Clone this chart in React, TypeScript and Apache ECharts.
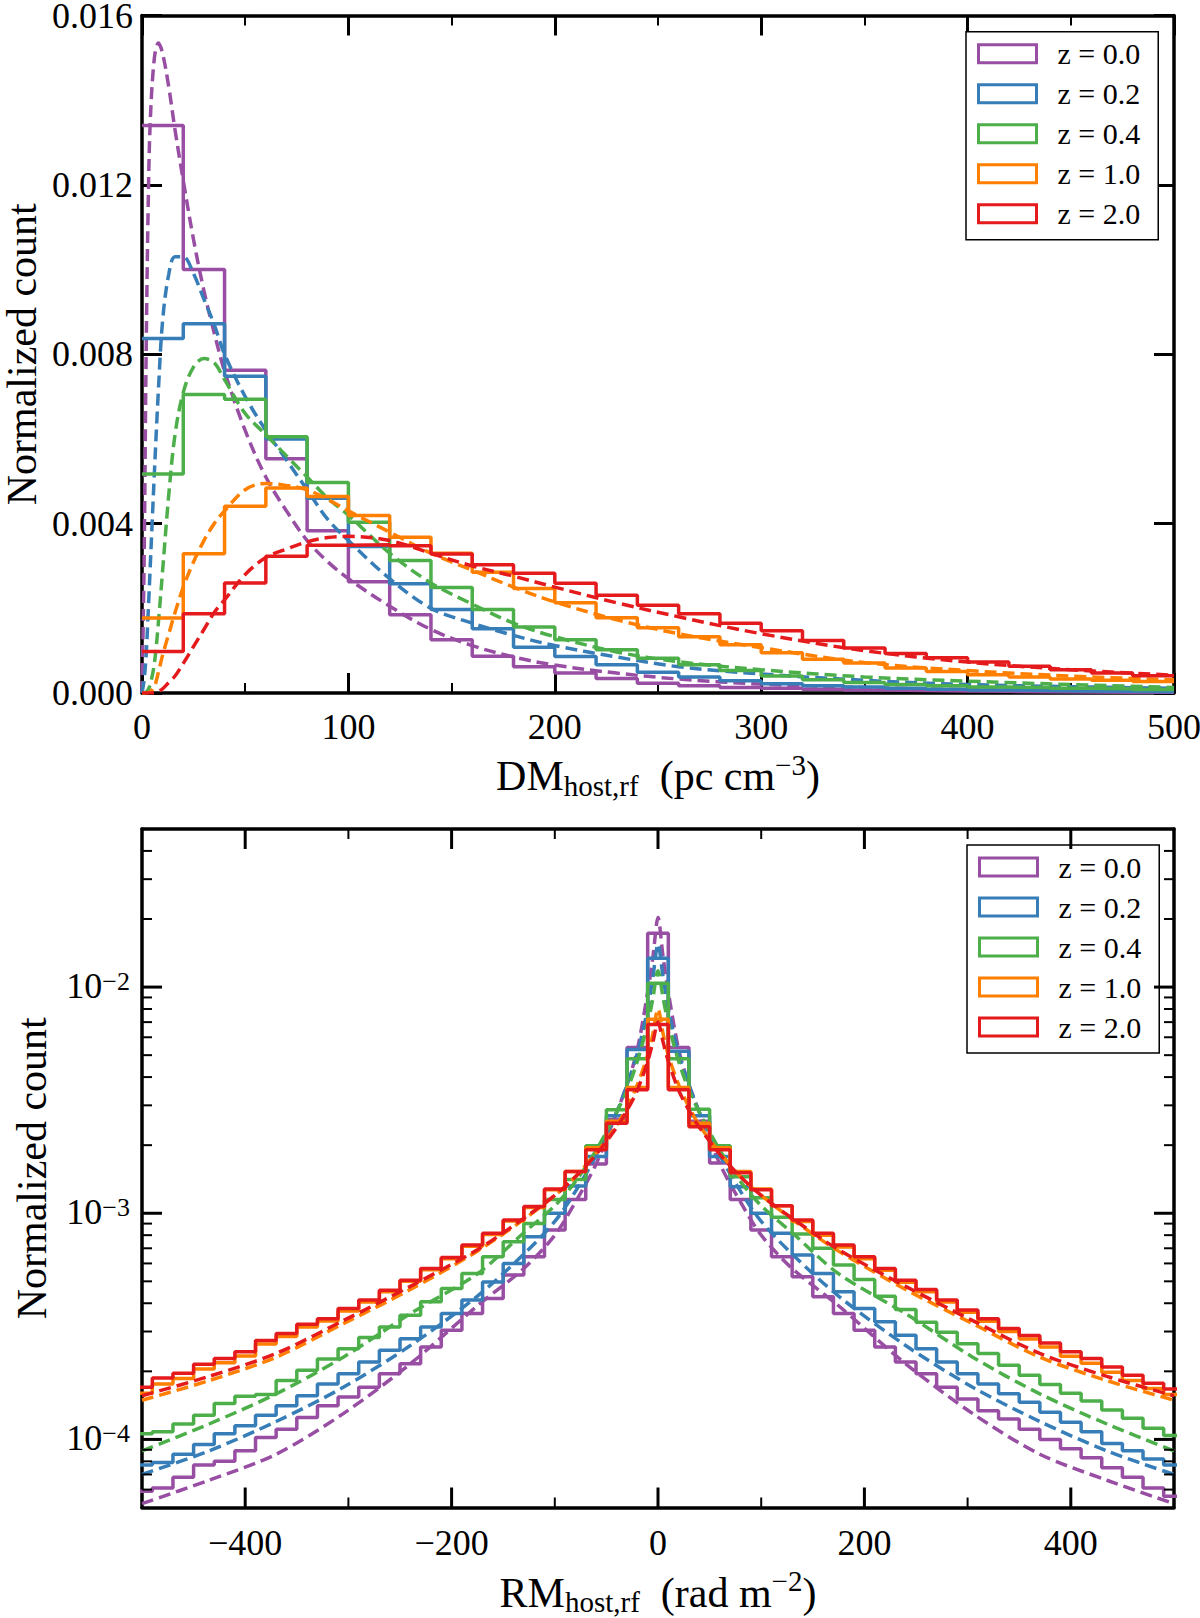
import { useEffect, useRef } from 'react';
import * as echarts from 'echarts';

const FONT = "'Liberation Serif', 'Times New Roman', serif";

const zLabels = ['z = 0.0', 'z = 0.2', 'z = 0.4', 'z = 1.0', 'z = 2.0'];
const zColors = ['#984ea3', '#377eb8', '#4daf4a', '#ff7f00', '#e41a1c'];

// ---- top panel: DM_host,rf, 20 pc cm^-3 bins from 0 to 500
const dmBinStart = 0;
const dmBinWidth = 20;
const dmHistZ00 = [0.0134, 0.01, 0.00762, 0.00553, 0.00383, 0.00263, 0.00185, 0.00126, 0.00087, 0.00062, 0.00047, 0.00034, 0.00023, 0.00017, 0.00013, 0.00011, 0.00009, 0.00007, 0.00006, 0.00005, 0.00004, 0.00003, 0.000025, 0.00002, 0.000015];
const dmHistZ02 = [0.00837, 0.00872, 0.00748, 0.006, 0.0046, 0.00346, 0.00258, 0.00197, 0.00152, 0.00108, 0.00086, 0.00067, 0.00049, 0.00038, 0.00029, 0.00022, 0.00017, 0.00014, 0.00011, 0.00009, 0.00007, 0.00006, 0.00005, 0.00004, 0.00003];
const dmHistZ04 = [0.00517, 0.00705, 0.00694, 0.00605, 0.00497, 0.00403, 0.00313, 0.00249, 0.00197, 0.00156, 0.00126, 0.00102, 0.00082, 0.00067, 0.00053, 0.0004, 0.00031, 0.00025, 0.0002, 0.00017, 0.00014, 0.00013, 0.00011, 0.0001, 0.00008];
const dmHistZ10 = [0.00177, 0.00329, 0.00441, 0.00484, 0.00464, 0.00419, 0.00368, 0.0033, 0.00285, 0.00247, 0.00213, 0.00178, 0.00154, 0.00133, 0.00114, 0.00095, 0.0008, 0.00071, 0.00059, 0.00051, 0.00043, 0.00038, 0.00033, 0.0003, 0.00027];
const dmHistZ20 = [0.00098, 0.00187, 0.0026, 0.00323, 0.00349, 0.0035, 0.00348, 0.00328, 0.00303, 0.00283, 0.00259, 0.00231, 0.00207, 0.00187, 0.00165, 0.00147, 0.00124, 0.00106, 0.00093, 0.00083, 0.00073, 0.00063, 0.00055, 0.00047, 0.00041];

// dashed model curves, read at these DM values
const dmCurveX = [0, 1, 2, 3, 4, 6, 8, 10, 13, 16, 20, 25, 30, 35, 40, 50, 60, 70, 80, 90, 100, 120, 140, 160, 180, 200, 230, 260, 300, 350, 400, 450, 500];
const dmCurveZ00 = [0, 0.003, 0.008, 0.0115, 0.0135, 0.015, 0.01535, 0.0151, 0.0143, 0.0133, 0.0121, 0.0107, 0.0095, 0.0085, 0.0076, 0.0062, 0.0051, 0.0043, 0.0036, 0.0031, 0.0027, 0.00205, 0.0015, 0.00112, 0.00085, 0.00066, 0.00047, 0.00033, 0.00021, 0.00013, 0.00008, 0.00005, 0.00003];
const dmCurveZ02 = [0, 0.0003, 0.0009, 0.0019, 0.003, 0.0052, 0.0072, 0.0088, 0.0099, 0.0103, 0.0103, 0.0099, 0.0093, 0.0087, 0.008, 0.007, 0.0062, 0.0055, 0.0048, 0.0041, 0.0036, 0.0027, 0.002, 0.00165, 0.00136, 0.00112, 0.00085, 0.00062, 0.00045, 0.0003, 0.0002, 0.00015, 0.00011];
const dmCurveZ04 = [0, 0, 0.00002, 0.00008, 0.0002, 0.0007, 0.0017, 0.0029, 0.0047, 0.0061, 0.0071, 0.0077, 0.0079, 0.0078, 0.0074, 0.0066, 0.0061, 0.0056, 0.0051, 0.0046, 0.0042, 0.0033, 0.0026, 0.0021, 0.00165, 0.00133, 0.00097, 0.00074, 0.00055, 0.00038, 0.00028, 0.0002, 0.00013];
const dmCurveZ10 = [0, 0, 0, 0.00001, 0.00003, 0.00015, 0.0005, 0.0009, 0.0014, 0.0019, 0.0025, 0.0031, 0.0036, 0.004, 0.0043, 0.0048, 0.00495, 0.0049, 0.0048, 0.00457, 0.0043, 0.0038, 0.0033, 0.0029, 0.0025, 0.00215, 0.00173, 0.0014, 0.00107, 0.00072, 0.00053, 0.0004, 0.00031];
const dmCurveZ20 = [0, 0, 0, 0, 0, 0.00001, 0.00004, 0.0001, 0.00025, 0.0004, 0.0007, 0.0011, 0.0015, 0.0019, 0.0022, 0.0028, 0.0032, 0.0034, 0.00357, 0.00367, 0.0037, 0.0036, 0.0033, 0.003, 0.00276, 0.0025, 0.00213, 0.0018, 0.0014, 0.001, 0.00073, 0.00055, 0.00042];

const dmXTicks = { min: 0, max: 500, interval: 100 };
const dmYTicks = { min: 0, max: 0.016, interval: 0.004 };

// ---- bottom panel: RM_host,rf, 20 rad m^-2 bins centred on -500 ... 500
const rmBinStart = -510;
const rmBinWidth = 20;
const rmHistZ00 = [5.9e-5, 6.1e-5, 6.8e-5, 7.7e-5, 8.0e-5, 8.9e-5, 1.02e-4, 1.11e-4, 1.25e-4, 1.41e-4, 1.54e-4, 1.7e-4, 1.95e-4, 2.16e-4, 2.56e-4, 3.04e-4, 3.6e-4, 4.2e-4, 5.33e-4, 6.43e-4, 8.43e-4, 1.15e-3, 1.65e-3, 2.6e-3, 5.4e-3, 1.73e-2, 5.4e-3, 2.55e-3, 1.67e-3, 1.15e-3, 8.43e-4, 6.43e-4, 5.24e-4, 4.27e-4, 3.6e-4, 3.04e-4, 2.56e-4, 2.2e-4, 1.95e-4, 1.7e-4, 1.51e-4, 1.34e-4, 1.23e-4, 1.11e-4, 1.0e-4, 9.1e-5, 8.3e-5, 7.5e-5, 6.8e-5, 6.1e-5, 5.6e-5];
const rmHistZ02 = [7.7e-5, 7.9e-5, 8.6e-5, 9.5e-5, 1.06e-4, 1.15e-4, 1.28e-4, 1.41e-4, 1.56e-4, 1.76e-4, 1.95e-4, 2.2e-4, 2.48e-4, 2.79e-4, 3.14e-4, 3.6e-4, 4.13e-4, 4.97e-4, 6.0e-4, 7.88e-4, 1.0e-3, 1.32e-3, 1.78e-3, 2.7e-3, 5.3e-3, 1.34e-2, 5.2e-3, 2.7e-3, 1.78e-3, 1.31e-3, 1.0e-3, 8.15e-4, 6.53e-4, 5.42e-4, 4.5e-4, 3.79e-4, 3.31e-4, 2.89e-4, 2.52e-4, 2.2e-4, 1.95e-4, 1.76e-4, 1.59e-4, 1.46e-4, 1.32e-4, 1.19e-4, 1.08e-4, 9.6e-5, 8.9e-5, 8.2e-5, 7.7e-5];
const rmHistZ04 = [1.06e-4, 1.08e-4, 1.17e-4, 1.28e-4, 1.44e-4, 1.55e-4, 1.58e-4, 1.82e-4, 2.02e-4, 2.27e-4, 2.52e-4, 2.82e-4, 3.14e-4, 3.54e-4, 4.06e-4, 4.65e-4, 5.42e-4, 6.43e-4, 7.49e-4, 9.0e-4, 1.15e-3, 1.41e-3, 1.99e-3, 2.87e-3, 4.82e-3, 1.04e-2, 4.82e-3, 2.88e-3, 1.99e-3, 1.45e-3, 1.17e-3, 9.6e-4, 8.1e-4, 7.0e-4, 5.9e-4, 5.1e-4, 4.3e-4, 3.75e-4, 3.3e-4, 2.98e-4, 2.65e-4, 2.4e-4, 2.13e-4, 1.92e-4, 1.75e-4, 1.6e-4, 1.48e-4, 1.35e-4, 1.24e-4, 1.12e-4, 1.04e-4];
const rmHistZ10 = [1.6e-4, 1.76e-4, 1.86e-4, 2.05e-4, 2.18e-4, 2.34e-4, 2.64e-4, 2.85e-4, 3.14e-4, 3.34e-4, 3.7e-4, 4.05e-4, 4.5e-4, 5.0e-4, 5.62e-4, 6.3e-4, 7.15e-4, 8.05e-4, 9.25e-4, 1.06e-3, 1.27e-3, 1.53e-3, 1.95e-3, 2.55e-3, 3.6e-3, 7.2e-3, 3.6e-3, 2.5e-3, 1.95e-3, 1.53e-3, 1.28e-3, 1.08e-3, 9.2e-4, 8.0e-4, 7.1e-4, 6.3e-4, 5.6e-4, 4.95e-4, 4.5e-4, 4.05e-4, 3.65e-4, 3.33e-4, 3.0e-4, 2.78e-4, 2.56e-4, 2.33e-4, 2.17e-4, 1.98e-4, 1.82e-4, 1.68e-4, 1.58e-4];
const rmHistZ20 = [1.7e-4, 1.87e-4, 1.96e-4, 2.15e-4, 2.28e-4, 2.44e-4, 2.74e-4, 2.94e-4, 3.23e-4, 3.42e-4, 3.79e-4, 4.13e-4, 4.57e-4, 5.06e-4, 5.7e-4, 6.38e-4, 7.24e-4, 8.15e-4, 9.34e-4, 1.07e-3, 1.28e-3, 1.53e-3, 1.91e-3, 2.5e-3, 3.52e-3, 6.84e-3, 3.52e-3, 2.41e-3, 1.91e-3, 1.51e-3, 1.27e-3, 1.08e-3, 9.34e-4, 8.15e-4, 7.24e-4, 6.43e-4, 5.7e-4, 5.06e-4, 4.6e-4, 4.13e-4, 3.73e-4, 3.42e-4, 3.09e-4, 2.88e-4, 2.67e-4, 2.44e-4, 2.28e-4, 2.09e-4, 1.92e-4, 1.77e-4, 1.67e-4];

const rmCurveX = [-500, -435, -370, -305, -240, -175, -130, -100, -80, -60, -40, -30, -20, -10, -5, 0, 5, 10, 20, 30, 40, 60, 80, 100, 130, 175, 240, 305, 370, 435, 500];
const rmCurveZ00 = [5.2e-5, 6.6e-5, 8.6e-5, 1.3e-4, 2.16e-4, 3.9e-4, 5.7e-4, 8.0e-4, 1.12e-3, 1.65e-3, 2.8e-3, 3.7e-3, 5.3e-3, 9.5e-3, 1.35e-2, 2.03e-2, 1.35e-2, 9.5e-3, 5.3e-3, 3.7e-3, 2.8e-3, 1.65e-3, 1.12e-3, 8.0e-4, 5.7e-4, 3.9e-4, 2.16e-4, 1.3e-4, 8.6e-5, 6.6e-5, 5.2e-5];
const rmCurveZ02 = [7.0e-5, 8.9e-5, 1.2e-4, 1.7e-4, 2.6e-4, 4.3e-4, 6.6e-4, 9.2e-4, 1.25e-3, 1.8e-3, 2.8e-3, 3.7e-3, 5.1e-3, 8.0e-3, 1.1e-2, 1.55e-2, 1.1e-2, 8.0e-3, 5.1e-3, 3.7e-3, 2.8e-3, 1.8e-3, 1.25e-3, 9.2e-4, 6.6e-4, 4.3e-4, 2.6e-4, 1.7e-4, 1.2e-4, 8.9e-5, 7.0e-5];
const rmCurveZ04 = [8.9e-5, 1.17e-4, 1.59e-4, 2.31e-4, 3.6e-4, 5.4e-4, 8.2e-4, 1.08e-3, 1.38e-3, 1.9e-3, 2.8e-3, 3.5e-3, 4.7e-3, 6.9e-3, 8.9e-3, 1.18e-2, 8.9e-3, 6.9e-3, 4.7e-3, 3.5e-3, 2.8e-3, 1.9e-3, 1.38e-3, 1.08e-3, 8.2e-4, 5.4e-4, 3.6e-4, 2.31e-4, 1.59e-4, 1.17e-4, 8.9e-5];
const rmCurveZ10 = [1.49e-4, 1.82e-4, 2.31e-4, 3.25e-4, 4.6e-4, 6.8e-4, 9.4e-4, 1.2e-3, 1.45e-3, 1.85e-3, 2.45e-3, 2.95e-3, 3.7e-3, 5.0e-3, 6.2e-3, 8.0e-3, 6.2e-3, 5.0e-3, 3.7e-3, 2.95e-3, 2.45e-3, 1.85e-3, 1.45e-3, 1.2e-3, 9.4e-4, 6.8e-4, 4.6e-4, 3.25e-4, 2.31e-4, 1.82e-4, 1.49e-4];
const rmCurveZ20 = [1.56e-4, 1.9e-4, 2.4e-4, 3.35e-4, 4.75e-4, 6.9e-4, 9.5e-4, 1.2e-3, 1.45e-3, 1.82e-3, 2.4e-3, 2.85e-3, 3.5e-3, 4.7e-3, 5.7e-3, 7.0e-3, 5.7e-3, 4.7e-3, 3.5e-3, 2.85e-3, 2.4e-3, 1.82e-3, 1.45e-3, 1.2e-3, 9.5e-4, 6.9e-4, 4.75e-4, 3.35e-4, 2.4e-4, 1.9e-4, 1.56e-4];

const rmXMin = -500;
const rmXMax = 500;
const rmYMin = 5e-5;
const rmYMax = 0.05;
const rmXMajor = [-400, -200, 0, 200, 400];
const rmXMinor = [-300, -100, 100, 300];
const rmYMajor = [1e-4, 1e-3, 1e-2];
const rmYMinor = [6e-5, 7e-5, 8e-5, 9e-5, 2e-4, 3e-4, 4e-4, 5e-4, 6e-4, 7e-4, 8e-4, 9e-4, 2e-3, 3e-3, 4e-3, 5e-3, 6e-3, 7e-3, 8e-3, 9e-3, 2e-2, 3e-2, 4e-2];

const dmHists = [dmHistZ00, dmHistZ02, dmHistZ04, dmHistZ10, dmHistZ20];
const dmCurves = [dmCurveZ00, dmCurveZ02, dmCurveZ04, dmCurveZ10, dmCurveZ20];
const rmHists = [rmHistZ00, rmHistZ02, rmHistZ04, rmHistZ10, rmHistZ20];
const rmCurves = [rmCurveZ00, rmCurveZ02, rmCurveZ04, rmCurveZ10, rmCurveZ20];

// step outline: one point per left bin edge, plus the last right edge
function stepData(start: number, width: number, values: number[]) {
  const pts = values.map((v, i) => [start + i * width, v]);
  pts.push([start + values.length * width, values[values.length - 1]]);
  return pts;
}

const black = '#000';
const lineW = 3.5;
const dash = [12, 6];
const frameLine = { show: true, onZero: false, lineStyle: { color: black, width: 3.5 } };
const majorTick = { show: true, inside: true, length: 20, lineStyle: { color: black, width: 3 } };
const minorTick = { show: true, splitNumber: 2, length: 10, lineStyle: { color: black, width: 2 } };
const tickLabel = { color: black, fontFamily: FONT, fontSize: 36, lineHeight: 34 };
const noSplit = { show: false };
const yNameStyle = { color: black, fontFamily: FONT, fontSize: 42, lineHeight: 40 };

// the padding tops put sub- and superscripts below/above the main baseline
const nameRich = {
  b: { fontFamily: FONT, fontSize: 42, verticalAlign: 'top', padding: [5, 0, 0, 0], color: black },
  sub: { fontFamily: FONT, fontSize: 29, verticalAlign: 'top', padding: [21, 0, 0, 0], color: black },
  sup: { fontFamily: FONT, fontSize: 29, verticalAlign: 'top', color: black },
};
const nameStyle = { color: black, fontFamily: FONT, fontSize: 42, rich: nameRich };

const minus = (v: number) => (v < 0 ? '\u2212' + Math.abs(v) : String(v));

function legendFor(left: number, top: number) {
  return {
    left,
    top,
    orient: 'vertical',
    selectedMode: false,
    itemWidth: 58,
    itemHeight: 18,
    itemGap: 10,
    padding: [7, 18, 11, 11],
    backgroundColor: '#fff',
    borderColor: black,
    borderWidth: 1.5,
    borderRadius: 0,
    textStyle: { color: black, fontFamily: FONT, fontSize: 30, padding: [0, 0, 0, 16] },
    data: zLabels.map((name, k) => ({
      name,
      icon: 'rect',
      itemStyle: { color: '#fff', borderColor: zColors[k], borderWidth: 3 },
    })),
  };
}

export default function App() {
  const chartRef = useRef<HTMLDivElement>(null);

  useEffect(() => {
    if (!chartRef.current) return;
    document.body.style.margin = '0';
    const chart = echarts.init(chartRef.current, null, { renderer: 'svg' });

    const series: any[] = [];
    zLabels.forEach((name, k) => {
      series.push({
        name,
        type: 'line',
        xAxisIndex: 0,
        yAxisIndex: 0,
        step: 'end',
        symbol: 'none',
        silent: true,
        data: stepData(dmBinStart, dmBinWidth, dmHists[k]),
        itemStyle: { color: zColors[k] },
        lineStyle: { color: zColors[k], width: lineW },
      });
      series.push({
        name: name + ' model',
        type: 'line',
        xAxisIndex: 0,
        yAxisIndex: 0,
        smooth: 0.35,
        symbol: 'none',
        silent: true,
        data: dmCurveX.map((x, i) => [x, dmCurves[k][i]]),
        itemStyle: { color: zColors[k] },
        lineStyle: { color: zColors[k], width: lineW, type: dash },
      });
    });
    zLabels.forEach((name, k) => {
      series.push({
        name,
        type: 'line',
        xAxisIndex: 2,
        yAxisIndex: 2,
        step: 'end',
        symbol: 'none',
        silent: true,
        data: stepData(rmBinStart, rmBinWidth, rmHists[k]),
        itemStyle: { color: zColors[k] },
        lineStyle: { color: zColors[k], width: lineW },
      });
      series.push({
        name: name + ' model',
        type: 'line',
        xAxisIndex: 2,
        yAxisIndex: 2,
        smooth: 0.3,
        symbol: 'none',
        silent: true,
        data: rmCurveX.map((x, i) => [x, rmCurves[k][i]]),
        itemStyle: { color: zColors[k] },
        lineStyle: { color: zColors[k], width: lineW, type: dash },
      });
    });

    // inward ticks of the log panel, on all four sides
    const tickItems: number[][] = [];
    rmXMajor.forEach((x) => tickItems.push([x, rmYMin, 0, 20], [x, rmYMax, 1, 20]));
    rmXMinor.forEach((x) => tickItems.push([x, rmYMin, 0, 10], [x, rmYMax, 1, 10]));
    rmYMajor.forEach((y) => tickItems.push([rmXMin, y, 2, 20], [rmXMax, y, 3, 20]));
    rmYMinor.forEach((y) => tickItems.push([rmXMin, y, 2, 10], [rmXMax, y, 3, 10]));
    const dirs = [[0, -1], [0, 1], [1, 0], [-1, 0]];
    series.push({
      type: 'custom',
      xAxisIndex: 2,
      yAxisIndex: 2,
      silent: true,
      clip: false,
      z: 10,
      encode: { x: 0, y: 1 },
      data: tickItems,
      renderItem: (_params: any, api: any) => {
        const p = api.coord([api.value(0), api.value(1)]);
        const d = dirs[api.value(2)];
        const len = api.value(3);
        return {
          type: 'line',
          shape: { x1: p[0], y1: p[1], x2: p[0] + d[0] * len, y2: p[1] + d[1] * len },
          style: { stroke: black, lineWidth: len > 15 ? 3 : 2 },
        };
      },
    });

    const logLabel = (v: number) => {
      const e = Math.log10(v);
      const r = Math.round(e);
      if (Math.abs(e - r) > 1e-6) return '';
      return `{b|10}{sup|${minus(r)}}`;
    };

    const option: any = {
      animation: false,
      backgroundColor: '#fff',
      grid: [
        { left: 142, right: 26, top: 15.5, height: 677.5, containLabel: false, outerBoundsMode: 'none' },
        { left: 142, right: 26, top: 829, height: 678.5, containLabel: false, outerBoundsMode: 'none' },
      ],
      legend: [legendFor(966, 31.7), legendFor(967, 845)],
      xAxis: [
        {
          gridIndex: 0,
          type: 'value',
          position: 'bottom',
          ...dmXTicks,
          axisLine: frameLine,
          axisTick: majorTick,
          minorTick,
          splitLine: noSplit,
          axisLabel: { ...tickLabel, margin: 17, formatter: (v: number) => String(v) },
          name: '{b|DM}{sub|host,rf}{b|\u2002(pc cm}{sup|\u22123}{b|)}',
          nameLocation: 'middle',
          nameGap: 57,
          nameMoveOverlap: false,
          nameTextStyle: nameStyle,
        },
        {
          gridIndex: 0,
          type: 'value',
          position: 'top',
          ...dmXTicks,
          axisLine: frameLine,
          axisTick: majorTick,
          minorTick,
          splitLine: noSplit,
          axisLabel: { show: false },
        },
        {
          gridIndex: 1,
          type: 'value',
          position: 'bottom',
          min: rmXMin,
          max: rmXMax,
          interval: 100,
          axisLine: frameLine,
          axisTick: { show: false },
          splitLine: noSplit,
          axisLabel: {
            ...tickLabel,
            margin: 18,
            formatter: (v: number) => (v % 200 === 0 ? minus(v) : ''),
          },
          name: '{b|RM}{sub|host,rf}{b|\u2002(rad m}{sup|\u22122}{b|)}',
          nameLocation: 'middle',
          nameGap: 59,
          nameMoveOverlap: false,
          nameTextStyle: nameStyle,
        },
        {
          gridIndex: 1,
          type: 'value',
          position: 'top',
          min: rmXMin,
          max: rmXMax,
          interval: 100,
          axisLine: frameLine,
          axisTick: { show: false },
          splitLine: noSplit,
          axisLabel: { show: false },
        },
      ],
      yAxis: [
        {
          gridIndex: 0,
          type: 'value',
          position: 'left',
          ...dmYTicks,
          axisLine: frameLine,
          axisTick: majorTick,
          splitLine: noSplit,
          axisLabel: { ...tickLabel, lineHeight: 26, margin: 9, formatter: (v: number) => v.toFixed(3) },
          name: 'Normalized count',
          nameLocation: 'middle',
          nameRotate: 90,
          nameGap: 100,
          nameMoveOverlap: false,
          nameTextStyle: yNameStyle,
        },
        {
          gridIndex: 0,
          type: 'value',
          position: 'right',
          ...dmYTicks,
          axisLine: frameLine,
          axisTick: majorTick,
          splitLine: noSplit,
          axisLabel: { show: false },
        },
        {
          gridIndex: 1,
          type: 'log',
          logBase: 10,
          position: 'left',
          min: rmYMin,
          max: rmYMax,
          splitNumber: 3,
          axisLine: frameLine,
          axisTick: { show: false },
          splitLine: noSplit,
          axisLabel: {
            ...tickLabel,
            margin: 12,
            formatter: logLabel,
            rich: {
              b: { fontFamily: FONT, fontSize: 36, lineHeight: 38, verticalAlign: 'top', color: black },
              sup: { fontFamily: FONT, fontSize: 26, lineHeight: 16, verticalAlign: 'top', color: black },
            },
          },
          name: 'Normalized count',
          nameLocation: 'middle',
          nameRotate: 90,
          nameGap: 90,
          nameMoveOverlap: false,
          nameTextStyle: yNameStyle,
        },
        {
          gridIndex: 1,
          type: 'log',
          logBase: 10,
          position: 'right',
          min: rmYMin,
          max: rmYMax,
          splitNumber: 3,
          axisLine: frameLine,
          axisTick: { show: false },
          splitLine: noSplit,
          axisLabel: { show: false },
        },
      ],
      series,
    };

    chart.setOption(option);
    return () => {
      chart.dispose();
    };
  }, []);

  return <div ref={chartRef} style={{ width: '1200px', height: '1618px' }} />;
}
